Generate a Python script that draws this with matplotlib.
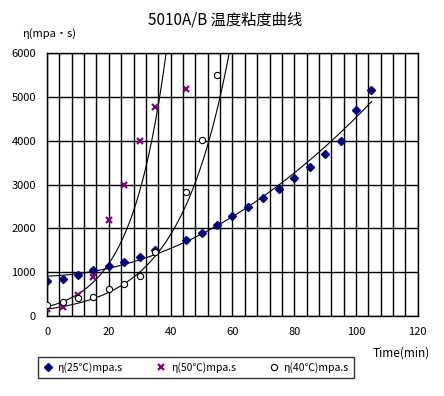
import numpy as np
import matplotlib.pyplot as plt

plt.rcParams['font.family'] = ['Noto Sans CJK SC', 'DejaVu Sans']

# data (time in min, viscosity in mpa.s)
t25 = [0, 5, 10, 15, 20, 25, 30, 35, 45, 50, 55, 60, 65, 70, 75, 80, 85, 90, 95, 100, 105]
v25 = [800, 850, 940, 1050, 1140, 1240, 1350, 1500, 1740, 1900, 2080, 2290, 2490, 2690,
       2900, 3150, 3400, 3700, 4000, 4690, 5150]

t50 = [0, 5, 10, 15, 20, 25, 30, 35, 45]
v50 = [150, 210, 480, 890, 2200, 3000, 4000, 4780, 5180]

t40 = [0, 5, 10, 15, 20, 25, 30, 35, 45, 50, 55]
v40 = [250, 330, 420, 440, 615, 720, 910, 1460, 2820, 4020, 5500]

# trendline coefficients
trend25 = [0.340, 2.21, 910]   # quadratic, x from 0 to 105
trend50 = (210, 0.087)          # a*exp(b*x), x from 0 to 45
trend40 = (157, 0.0618)         # a*exp(b*x), x from 0 to 60

fig = plt.figure(figsize=(4.44, 3.96), dpi=100)
ax = fig.add_axes([0.106, 0.202, 0.835, 0.664])

xs = np.linspace(0, 105, 300)
ax.plot(xs, np.polyval(trend25, xs), color='black', lw=0.8, zorder=3)
xs = np.linspace(0, 45, 300)
ax.plot(xs, trend50[0] * np.exp(trend50[1] * xs), color='black', lw=0.8, zorder=3)
xs = np.linspace(0, 60, 300)
ax.plot(xs, trend40[0] * np.exp(trend40[1] * xs), color='black', lw=0.8, zorder=3)

ax.plot(t25, v25, 'D', color='#000080', ms=4.2, ls='none', zorder=4,
        label='η(25℃)mpa.s')
ax.plot(t50, v50, 'x', color='#800080', ms=4, mew=1.6, ls='none', zorder=4,
        label='η(50℃)mpa.s')
ax.plot(t40, v40, 'o', mfc='white', mec='black', ms=4.5, mew=0.8, ls='none', zorder=4,
        label='η(40℃)mpa.s')

ax.set_xlim(0, 120)
ax.set_ylim(0, 6000)
ax.set_xticks(range(0, 121, 20))
ax.set_yticks(range(0, 6001, 1000))
ax.set_xticks(range(0, 121, 4), minor=True)
ax.grid(True, which='major', axis='y', color='black', lw=1)
ax.grid(True, which='both', axis='x', color='black', lw=1)
ax.tick_params(which='both', length=0, labelsize=8, pad=8)
for s in ax.spines.values():
    s.set_color('black')
    s.set_linewidth(1)

fig.text(0.508, 0.95, '5010A/B 温度粘度曲线', ha='center', va='center', fontsize=11)
fig.text(0.05, 0.915, 'η(mpa•s)', ha='left', va='center', fontsize=8)
fig.text(0.968, 0.108, 'Time(min)', ha='right', va='center', fontsize=8.5)

leg = fig.legend(loc='center', bbox_to_anchor=(0.441, 0.072), ncol=3, fontsize=7.5,
                 frameon=True, fancybox=False, edgecolor='black', handletextpad=0.4,
                 columnspacing=3.2, handlelength=1.0, borderpad=0.5)
leg.get_frame().set_linewidth(1)

fig.savefig('out.png', dpi=100)
